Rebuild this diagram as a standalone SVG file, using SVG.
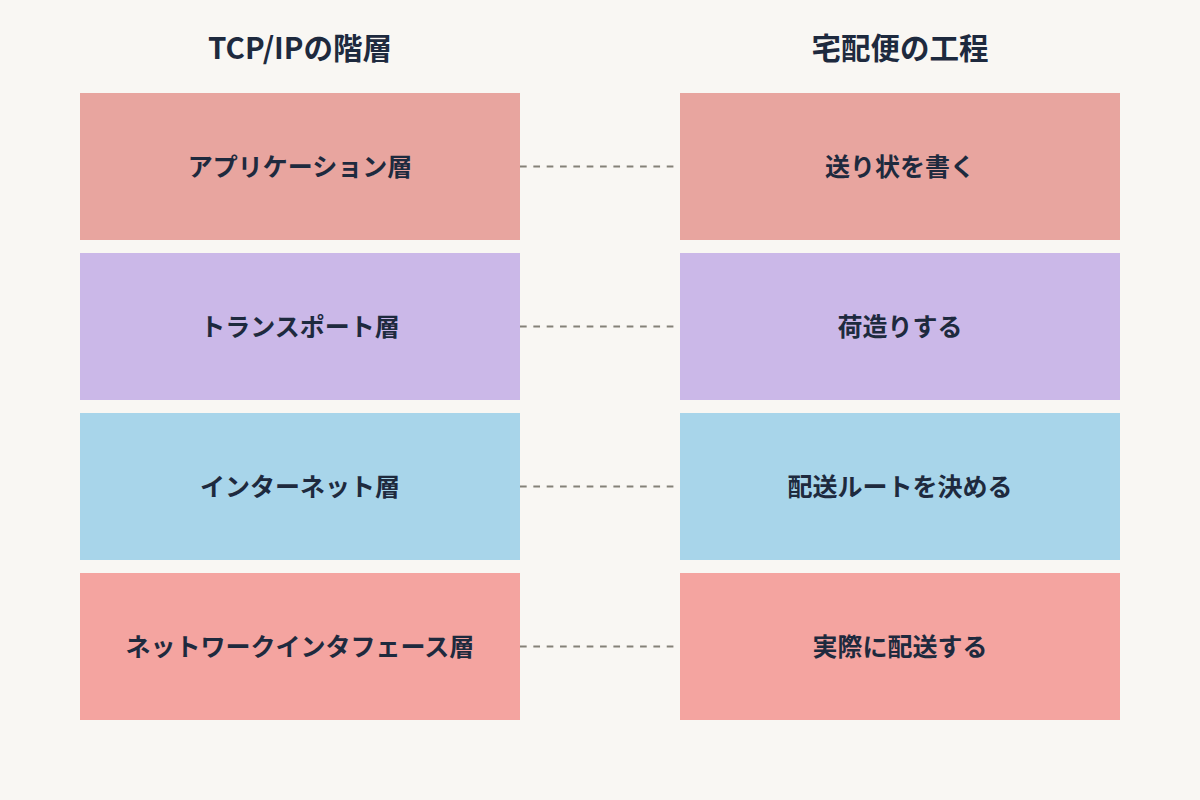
<svg xmlns="http://www.w3.org/2000/svg" width="1200" height="800" viewBox="0 0 1200 800">
<style>
.t{font-family:"Noto Sans CJK JP","Noto Sans",sans-serif;font-weight:700;fill:#1e2a3e;text-anchor:middle;dominant-baseline:central}
.h{font-size:29.5px}
.l{font-size:25px}
.c{stroke:#858278;stroke-width:2;stroke-dasharray:6.67 6.67;fill:none}
</style>
<rect width="1200" height="800" fill="#f9f7f3"/>
<text class="t h" x="300" y="46">TCP/IPの階層</text>
<text class="t h" x="900" y="46">宅配便の工程</text>
<g id="connectors">
<line class="c" x1="520" y1="166.5" x2="680" y2="166.5"/>
<line class="c" x1="520" y1="326.5" x2="680" y2="326.5"/>
<line class="c" x1="520" y1="486.5" x2="680" y2="486.5"/>
<line class="c" x1="520" y1="646.5" x2="680" y2="646.5"/>
</g>
<g id="l1"><rect x="80" y="93" width="440" height="147" fill="#e8a59f"/><text class="t l" x="300" y="164.5">アプリケーション層</text></g>
<g id="l2"><rect x="80" y="253" width="440" height="147" fill="#cbb8e8"/><text class="t l" x="300" y="324.5">トランスポート層</text></g>
<g id="l3"><rect x="80" y="413" width="440" height="147" fill="#a8d5ea"/><text class="t l" x="300" y="484.5">インターネット層</text></g>
<g id="l4"><rect x="80" y="573" width="440" height="147" fill="#f4a4a0"/><text class="t l" x="300" y="644.5">ネットワークインタフェース層</text></g>
<g id="r1"><rect x="680" y="93" width="440" height="147" fill="#e8a59f"/><text class="t l" x="900" y="164.5">送り状を書く</text></g>
<g id="r2"><rect x="680" y="253" width="440" height="147" fill="#cbb8e8"/><text class="t l" x="900" y="324.5">荷造りする</text></g>
<g id="r3"><rect x="680" y="413" width="440" height="147" fill="#a8d5ea"/><text class="t l" x="900" y="484.5">配送ルートを決める</text></g>
<g id="r4"><rect x="680" y="573" width="440" height="147" fill="#f4a4a0"/><text class="t l" x="900" y="644.5">実際に配送する</text></g>
</svg>
